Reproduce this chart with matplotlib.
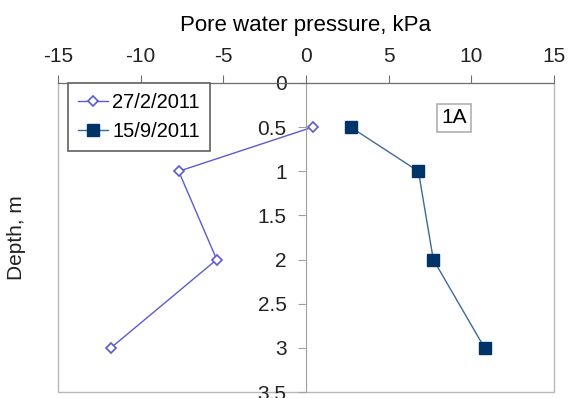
import numpy as np
from matplotlib import pyplot as plt
from matplotlib.patches import Rectangle

plt.rcParams['font.family'] = ['Liberation Sans', 'DejaVu Sans']
plt.rcParams['axes.unicode_minus'] = False

""" Data read off the figure """
depth = [0.5, 1.0, 2.0, 3.0]
pwp_feb = [0.4, -7.7, -5.4, -11.8]   # 27/2/2011
pwp_sep = [2.7, 6.8, 7.7, 10.8]      # 15/9/2011
labels = ['27/2/2011', '15/9/2011']
xticks = [-15, -10, -5, 0, 5, 10, 15]
yticks = [0, 0.5, 1, 1.5, 2, 2.5, 3, 3.5]

fig = plt.figure(figsize=(5.73, 3.98), dpi=100)
ax = fig.add_axes([58/573, 1-392/398, 496/573, 309/398])

ax.plot(pwp_feb, depth, '-D', color='#5b5bd0', lw=1.0, ms=5,
        mfc='white', mec='#5b5bd0', mew=1.2, label=labels[0])
ax.plot(pwp_sep, depth, '-', color='#3d6a9a', lw=1.0, marker='s', ms=8,
        mfc='#003366', mec='#003366', label=labels[1])

ax.set_xlim(-15, 15)
ax.set_ylim(3.5, 0)
ax.set_xticks(xticks)
ax.set_yticks(yticks)
ax.set_yticklabels(['%g' % t for t in yticks])

# x axis on top, y axis through zero
ax.xaxis.tick_top()
ax.xaxis.set_label_position('top')
ax.set_xlabel('Pore water pressure, kPa', fontsize=16, labelpad=12)
ax.spines['left'].set_position(('data', 0))
ax.spines['left'].set_color('#a0a0a0')
ax.spines['top'].set_color('#707070')
ax.spines['right'].set_visible(False)
ax.spines['bottom'].set_visible(False)
ax.tick_params(axis='x', direction='out', length=6, pad=6, labelsize=15,
               color='#707070', labelcolor='#222222')
ax.tick_params(axis='y', direction='out', length=6, pad=8, labelsize=15,
               color='#a0a0a0', labelcolor='#222222')

# plot area frame
ax.add_patch(Rectangle((0, 0), 1, 1, transform=ax.transAxes, fill=False,
                       edgecolor='#b8b8b8', lw=1.0, zorder=0, clip_on=False))

fig.text(17/573, 1-238/398, 'Depth, m', rotation=90, fontsize=15,
         ha='center', va='center', color='#222222')

leg = ax.legend(loc='upper left', bbox_to_anchor=(0.02, 1.0), borderaxespad=0,
                fontsize=14.5, fancybox=False, framealpha=1, handlelength=1.5,
                handletextpad=0.2, labelspacing=0.5, borderpad=0.5)
leg.get_frame().set_edgecolor('#606060')
leg.get_frame().set_linewidth(1.2)

ax.text(0.798, 0.887, '1A', transform=ax.transAxes, fontsize=15,
        ha='center', va='center',
        bbox=dict(boxstyle='square,pad=0.2', fc='white', ec='#b0b0b0', lw=1.2))

plt.savefig('out.png', dpi=100)
